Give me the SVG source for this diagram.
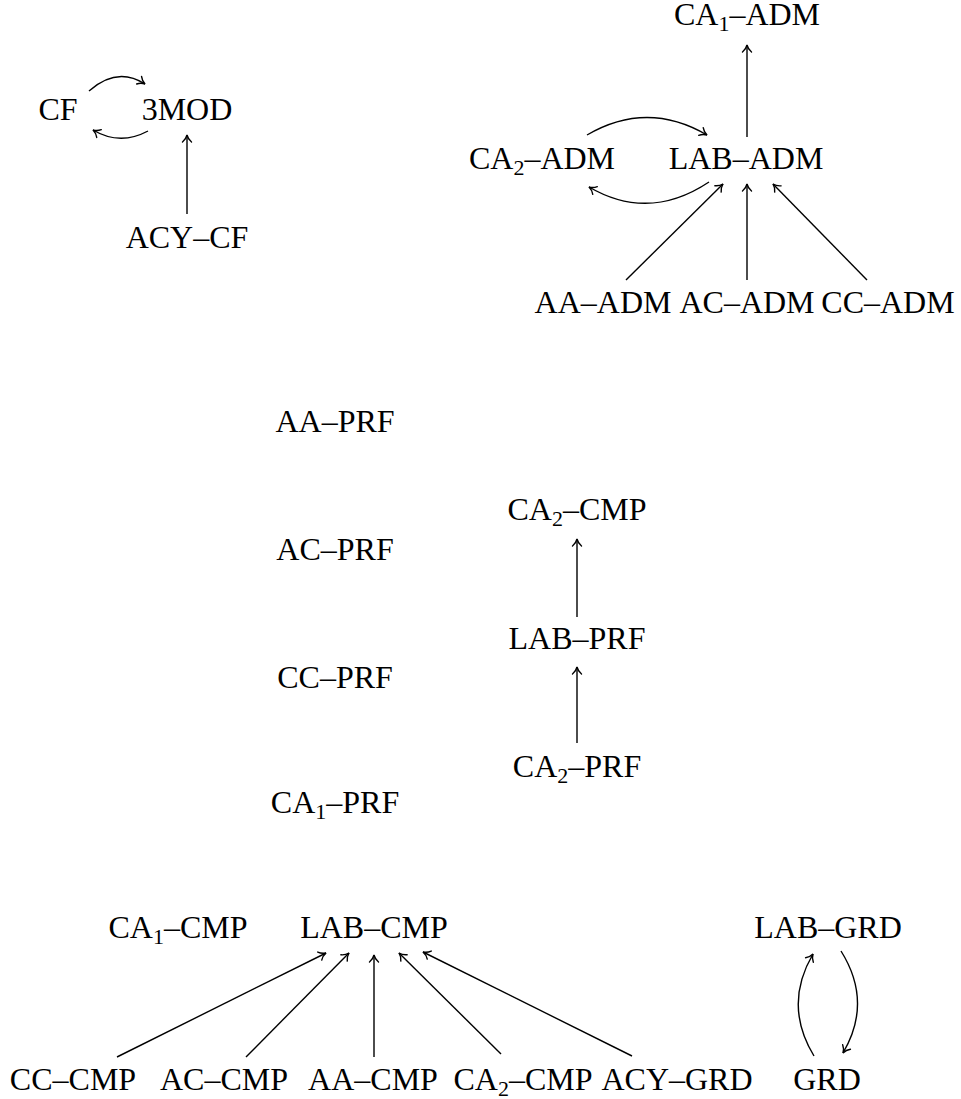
<svg xmlns="http://www.w3.org/2000/svg" width="961" height="1099" viewBox="0 0 961 1099">
<style>
text{font-family:"Liberation Serif","Times New Roman",serif;font-size:32px;fill:#000;text-anchor:middle}
.sub{font-size:22px}
.e{fill:none;stroke:#000;stroke-width:1.4}
</style>
<defs>
<marker id="ah" markerUnits="userSpaceOnUse" markerWidth="20" markerHeight="20" viewBox="-10 -10 20 20" refX="0" refY="0" orient="auto">
<path d="M-7,-4.5 C-5,-2 -2,-0.5 0,0 C-2,0.5 -5,2 -7,4.5" fill="none" stroke="#000" stroke-width="1.4" stroke-linecap="round"/>
</marker>
</defs>
<rect width="961" height="1099" fill="#fff"/>
<g id="connectors">
<path class="e" marker-end="url(#ah)" d="M89,91 Q117,66 145,84"/>
<path class="e" marker-end="url(#ah)" d="M148,131 Q120,146 93,130"/>
<path class="e" marker-end="url(#ah)" d="M187,214 L187,135"/>
<path class="e" marker-end="url(#ah)" d="M747,137 L747,45"/>
<path class="e" marker-end="url(#ah)" d="M587,135 Q647,100 707,135"/>
<path class="e" marker-end="url(#ah)" d="M709,182 Q649,222 589,187"/>
<path class="e" marker-end="url(#ah)" d="M626,280 L723,184"/>
<path class="e" marker-end="url(#ah)" d="M747,280 L747,184"/>
<path class="e" marker-end="url(#ah)" d="M867,280 L773,184"/>
<path class="e" marker-end="url(#ah)" d="M577,617 L577,539"/>
<path class="e" marker-end="url(#ah)" d="M577,743 L577,667"/>
<path class="e" marker-end="url(#ah)" d="M117,1057 L326,953"/>
<path class="e" marker-end="url(#ah)" d="M246,1057 L349,953"/>
<path class="e" marker-end="url(#ah)" d="M374,1057 L374,955"/>
<path class="e" marker-end="url(#ah)" d="M501,1054 L399,953"/>
<path class="e" marker-end="url(#ah)" d="M632,1056 L423,952"/>
<path class="e" marker-end="url(#ah)" d="M814,1056 Q783,1005 813,954"/>
<path class="e" marker-end="url(#ah)" d="M841,951 Q873,1002 843,1053"/>
</g>
<g id="CF"><text x="58" y="120">CF</text></g>
<g id="3MOD"><text x="187" y="120">3MOD</text></g>
<g id="ACY-CF"><text x="187" y="248">ACY–CF</text></g>
<g id="CA1-ADM"><text x="747" y="25">CA<tspan class="sub" dy="6">1</tspan><tspan dy="-6">–ADM</tspan></text></g>
<g id="CA2-ADM"><text x="542" y="169">CA<tspan class="sub" dy="6">2</tspan><tspan dy="-6">–ADM</tspan></text></g>
<g id="LAB-ADM"><text x="746" y="169">LAB–ADM</text></g>
<g id="AA-ADM"><text x="603" y="313">AA–ADM</text></g>
<g id="AC-ADM"><text x="747" y="313">AC–ADM</text></g>
<g id="CC-ADM"><text x="888" y="313">CC–ADM</text></g>
<g id="AA-PRF"><text x="335" y="432">AA–PRF</text></g>
<g id="AC-PRF"><text x="335" y="560">AC–PRF</text></g>
<g id="CC-PRF"><text x="335" y="688">CC–PRF</text></g>
<g id="CA1-PRF"><text x="335" y="813">CA<tspan class="sub" dy="6">1</tspan><tspan dy="-6">–PRF</tspan></text></g>
<g id="CA2-CMP-top"><text x="577" y="520">CA<tspan class="sub" dy="6">2</tspan><tspan dy="-6">–CMP</tspan></text></g>
<g id="LAB-PRF"><text x="577" y="649">LAB–PRF</text></g>
<g id="CA2-PRF"><text x="577" y="777">CA<tspan class="sub" dy="6">2</tspan><tspan dy="-6">–PRF</tspan></text></g>
<g id="CA1-CMP"><text x="178" y="938">CA<tspan class="sub" dy="6">1</tspan><tspan dy="-6">–CMP</tspan></text></g>
<g id="LAB-CMP"><text x="374" y="938">LAB–CMP</text></g>
<g id="LAB-GRD"><text x="828" y="938">LAB–GRD</text></g>
<g id="CC-CMP"><text x="73" y="1090">CC–CMP</text></g>
<g id="AC-CMP"><text x="224" y="1090">AC–CMP</text></g>
<g id="AA-CMP"><text x="373" y="1090">AA–CMP</text></g>
<g id="CA2-CMP"><text x="523" y="1090">CA<tspan class="sub" dy="6">2</tspan><tspan dy="-6">–CMP</tspan></text></g>
<g id="ACY-GRD"><text x="677" y="1090">ACY–GRD</text></g>
<g id="GRD"><text x="827" y="1090">GRD</text></g>
</svg>
